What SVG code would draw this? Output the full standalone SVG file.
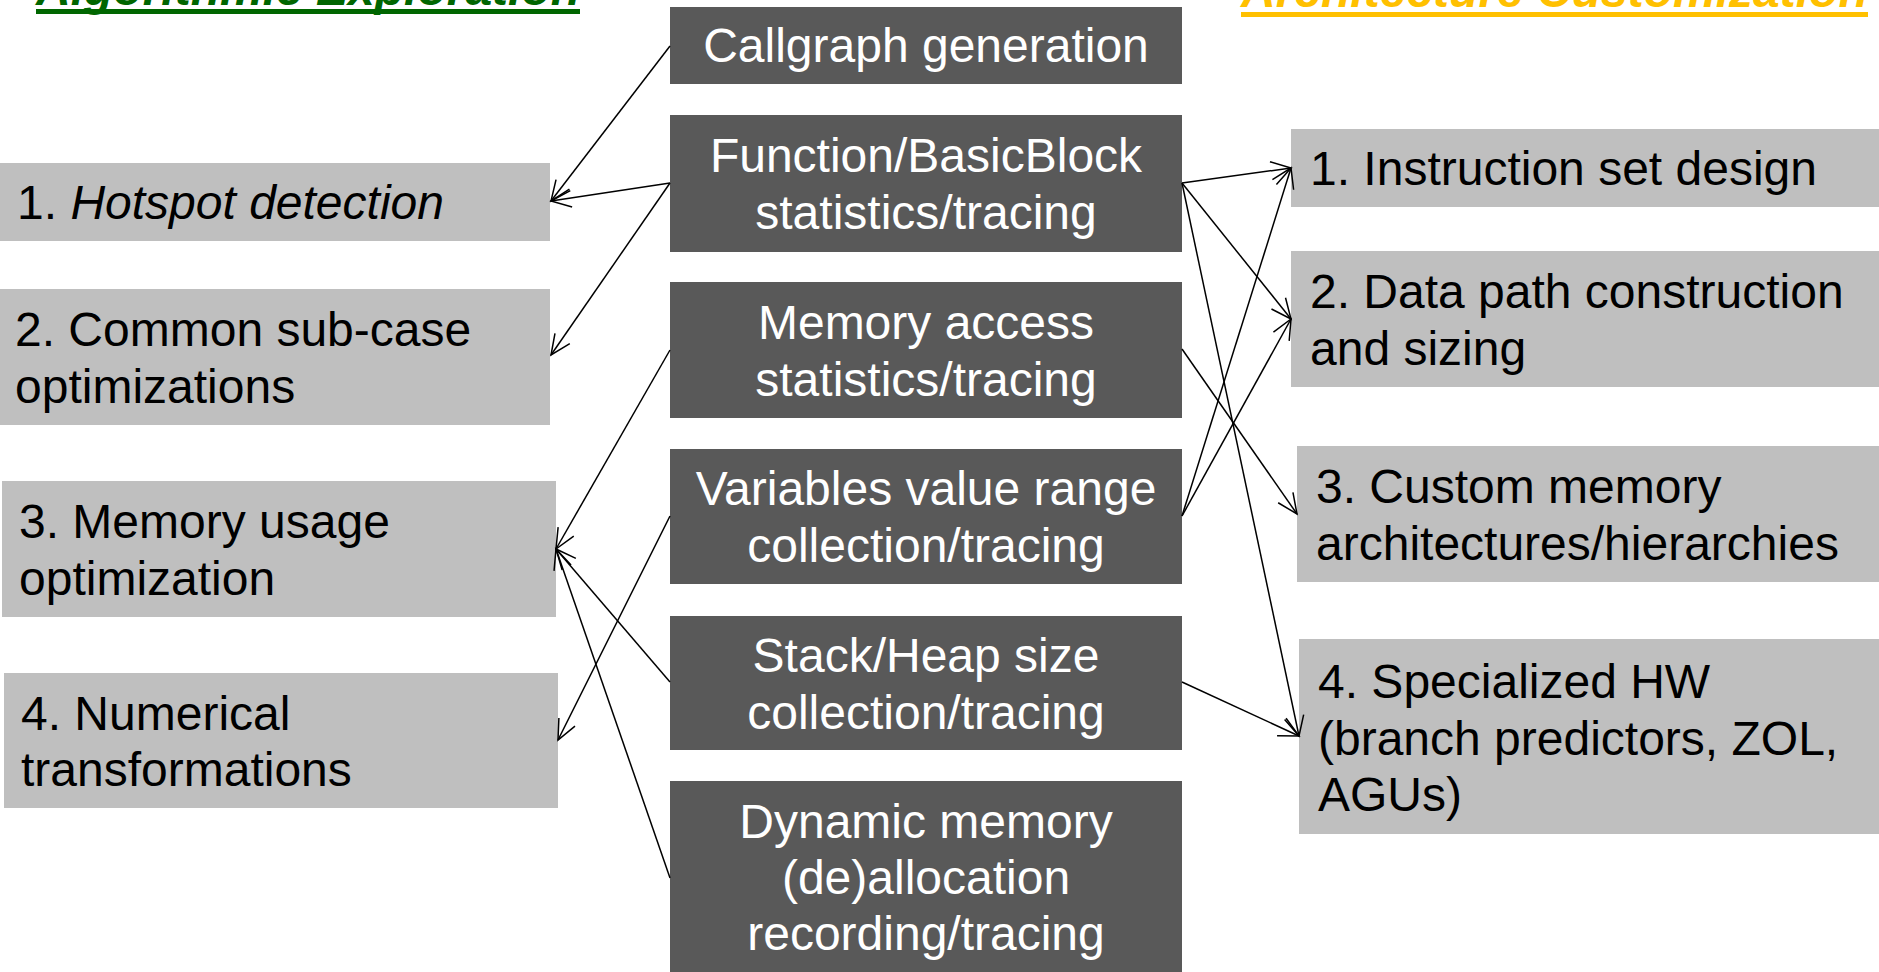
<svg xmlns="http://www.w3.org/2000/svg" width="1879" height="972" viewBox="0 0 1879 972">
  <style>
    text { font-family: "Liberation Sans", Arial, sans-serif; font-size: 48px; }
    .dark rect { fill: #595959; }
    .dark text { fill: #ffffff; text-anchor: middle; }
    .light rect { fill: #bfbfbf; }
    .light text { fill: #000000; }
    .head { font-weight: bold; font-style: italic; }
    .conn line { stroke: #000000; stroke-width: 1.5; fill: none; marker-end: url(#arr); }
  </style>
  <defs>
    <marker id="arr" markerWidth="24" markerHeight="24" refX="22" refY="12" orient="auto" markerUnits="userSpaceOnUse" viewBox="0 0 24 24" overflow="visible">
      <path d="M2,3 L22,12 L2,21" fill="none" stroke="#000000" stroke-width="1.5"/>
    </marker>
  </defs>
  <rect width="1879" height="972" fill="#ffffff"/>

  <!-- column headings -->
  <g id="heading-left">
    <text class="head" x="36" y="5" fill="#006600">Algorithmic Exploration</text>
    <rect x="36" y="9" width="544" height="5" fill="#006600"/>
  </g>
  <g id="heading-right">
    <text class="head" x="1241" y="7" fill="#ffc000">Architecture Customization</text>
    <rect x="1241" y="12" width="627" height="5" fill="#ffc000"/>
  </g>

  <!-- profiling features (centre column) -->
  <g id="callgraph" class="dark">
    <rect x="670" y="7" width="512" height="77"/>
    <text x="926" y="62">Callgraph generation</text>
  </g>
  <g id="function-stats" class="dark">
    <rect x="670" y="115" width="512" height="137"/>
    <text x="926" y="172">Function/BasicBlock</text>
    <text x="926" y="229">statistics/tracing</text>
  </g>
  <g id="memory-access" class="dark">
    <rect x="670" y="282" width="512" height="136"/>
    <text x="926" y="338.5">Memory access</text>
    <text x="926" y="395.5">statistics/tracing</text>
  </g>
  <g id="value-range" class="dark">
    <rect x="670" y="449" width="512" height="135"/>
    <text x="926" y="505">Variables value range</text>
    <text x="926" y="562">collection/tracing</text>
  </g>
  <g id="stack-heap" class="dark">
    <rect x="670" y="616" width="512" height="134"/>
    <text x="926" y="671.5">Stack/Heap size</text>
    <text x="926" y="728.5">collection/tracing</text>
  </g>
  <g id="dynamic-memory" class="dark">
    <rect x="670" y="781" width="512" height="196"/>
    <text x="926" y="838">Dynamic memory</text>
    <text x="926" y="894">(de)allocation</text>
    <text x="926" y="950">recording/tracing</text>
  </g>

  <!-- algorithmic exploration (left column) -->
  <g id="hotspot" class="light">
    <rect x="0" y="163" width="550" height="78"/>
    <text x="17" y="219">1. <tspan font-style="italic">Hotspot detection</tspan></text>
  </g>
  <g id="subcase" class="light">
    <rect x="0" y="289" width="550" height="136"/>
    <text x="15" y="345.5">2. Common sub-case</text>
    <text x="15" y="402.5">optimizations</text>
  </g>
  <g id="memory-usage" class="light">
    <rect x="2" y="481" width="554" height="136"/>
    <text x="19" y="537.5">3. Memory usage</text>
    <text x="19" y="594.5">optimization</text>
  </g>
  <g id="numerical" class="light">
    <rect x="4" y="673" width="554" height="135"/>
    <text x="21" y="730">4. Numerical</text>
    <text x="21" y="786">transformations</text>
  </g>

  <!-- architecture customization (right column) -->
  <g id="isa" class="light">
    <rect x="1291" y="129" width="588" height="78"/>
    <text x="1310" y="185">1. Instruction set design</text>
  </g>
  <g id="datapath" class="light">
    <rect x="1291" y="251" width="588" height="136"/>
    <text x="1310" y="307.5">2. Data path construction</text>
    <text x="1310" y="364.5">and sizing</text>
  </g>
  <g id="custom-memory" class="light">
    <rect x="1297" y="446" width="582" height="136"/>
    <text x="1316" y="502.5">3. Custom memory</text>
    <text x="1316" y="559.5">architectures/hierarchies</text>
  </g>
  <g id="special-hw" class="light">
    <rect x="1299" y="639" width="580" height="195"/>
    <text x="1318" y="698">4. Specialized HW</text>
    <text x="1318" y="754.5">(branch predictors, ZOL,</text>
    <text x="1318" y="811">AGUs)</text>
  </g>

  <!-- connectors -->
  <g id="connectors" class="conn">
    <line x1="670" y1="46" x2="551" y2="201"/>
    <line x1="670" y1="183" x2="551" y2="201"/>
    <line x1="670" y1="183" x2="551" y2="355"/>
    <line x1="670" y1="350" x2="556" y2="549"/>
    <line x1="670" y1="516" x2="558" y2="740"/>
    <line x1="670" y1="682" x2="556" y2="549"/>
    <line x1="670" y1="878" x2="556" y2="549"/>

    <line x1="1182" y1="183" x2="1291" y2="168"/>
    <line x1="1182" y1="183" x2="1291" y2="319"/>
    <line x1="1182" y1="183" x2="1299" y2="736"/>
    <line x1="1182" y1="349" x2="1297" y2="514"/>
    <line x1="1182" y1="516" x2="1291" y2="168"/>
    <line x1="1182" y1="516" x2="1291" y2="319"/>
    <line x1="1182" y1="682" x2="1299" y2="736"/>
  </g>
</svg>
